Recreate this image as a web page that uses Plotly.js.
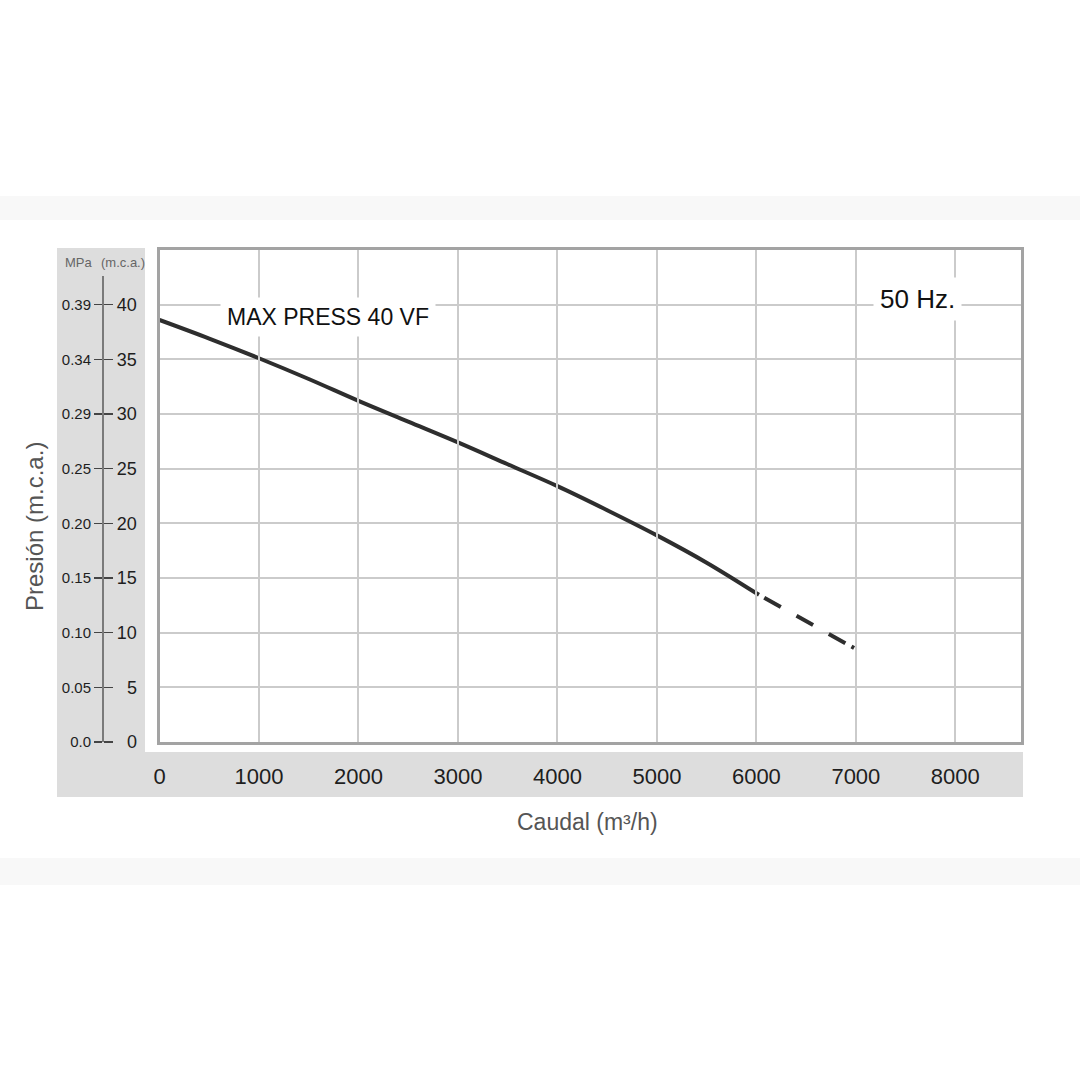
<!DOCTYPE html>
<html>
<head>
<meta charset="utf-8">
<script src="https://cdn.plot.ly/plotly-3.0.1.min.js"></script>
<style>html,body{margin:0;padding:0;background:#fff;}#chart{width:1080px;height:1080px;}</style>
</head>
<body>
<div id="chart"></div>
<script>
// ---- data ----
const flow = [0, 500, 1000, 1500, 2000, 2500, 3000, 3500, 4000, 4500, 5000, 5500, 6000];
const head = [38.6, 36.9, 35.1, 33.2, 31.2, 29.3, 27.4, 25.4, 23.4, 21.2, 18.9, 16.4, 13.6];
const flowExt = [6000, 7000];
const headExt = [13.6, 8.5];
const mcaTicks = [0, 5, 10, 15, 20, 25, 30, 35, 40];
const mpaLabels = ['0.0', '0.05', '0.10', '0.15', '0.20', '0.25', '0.29', '0.34', '0.39'];
const xTicks = [0, 1000, 2000, 3000, 4000, 5000, 6000, 7000, 8000];

const W = 1080, H = 1080;
const px = v => v / W;
const py = v => (H - v) / H;
const FONT = 'Liberation Sans, Arial, Helvetica, sans-serif';

const yMax = 45.0;
const y2Top = 276;
const y2Max = yMax * (742 - y2Top) / (742 - 250);

const traces = [
  {x: flow, y: head, type: 'scatter', mode: 'lines', line: {color: '#2e2e2e', width: 4, shape: 'spline'}, hoverinfo: 'skip', showlegend: false},
  {x: flowExt, y: headExt, type: 'scatter', mode: 'lines', line: {color: '#2e2e2e', width: 4, dash: '3px,6px,19px,18px,19px,18px,19px,7px,3px,60px'}, hoverinfo: 'skip', showlegend: false},
  {x: [null], y: [null], yaxis: 'y2', type: 'scatter', mode: 'lines', hoverinfo: 'skip', showlegend: false},
  {x: [null], y: [null], yaxis: 'y3', type: 'scatter', mode: 'lines', hoverinfo: 'skip', showlegend: false}
];

const layout = {
  width: W, height: H,
  margin: {l: 0, r: 0, t: 0, b: 0, autoexpand: false},
  paper_bgcolor: '#ffffff',
  plot_bgcolor: 'rgba(0,0,0,0)',
  showlegend: false,
  font: {family: FONT, color: '#222'},
  xaxis: {
    domain: [px(159.5), px(1021)], range: [0, 8660], anchor: 'y',
    tickvals: xTicks, ticktext: xTicks.map(String),
    showgrid: true, gridcolor: '#cbcbcb', gridwidth: 2,
    showline: true, mirror: true, linecolor: '#a3a3a3', linewidth: 3,
    zeroline: false, ticks: '', ticklabelstandoff: 13,
    tickfont: {size: 22, color: '#1e1e1e', family: FONT}
  },
  yaxis: {
    domain: [py(742), py(250)], range: [0, yMax], anchor: 'x',
    tickvals: mcaTicks, ticktext: mcaTicks.map(String),
    showgrid: true, gridcolor: '#cbcbcb', gridwidth: 2,
    showline: true, mirror: true, linecolor: '#a3a3a3', linewidth: 3,
    zeroline: false, ticks: '', ticklabelstandoff: 16,
    tickfont: {size: 18, color: '#1e1e1e', family: FONT}
  },
  yaxis2: {
    domain: [py(742), py(y2Top)], range: [0, y2Max], anchor: 'free', position: px(103), side: 'left',
    tickvals: mcaTicks, ticktext: mpaLabels,
    showgrid: false, zeroline: false,
    showline: true, linecolor: '#7a7a7a', linewidth: 2,
    ticks: 'outside', ticklen: 8, tickwidth: 1.5, tickcolor: '#444',
    tickfont: {size: 15, color: '#1e1e1e', family: FONT}
  },
  yaxis3: {
    domain: [py(742), py(y2Top)], range: [0, y2Max], anchor: 'free', position: px(103), side: 'right',
    tickvals: mcaTicks, showticklabels: false,
    showgrid: false, zeroline: false, showline: false,
    ticks: 'outside', ticklen: 9, tickwidth: 1.5, tickcolor: '#444'
  },
  shapes: [
    {type: 'rect', xref: 'paper', yref: 'paper', x0: 0, x1: 1, y0: py(220), y1: py(196), fillcolor: '#f8f8f8', line: {width: 0}, layer: 'below'},
    {type: 'rect', xref: 'paper', yref: 'paper', x0: 0, x1: 1, y0: py(885), y1: py(858), fillcolor: '#f8f8f8', line: {width: 0}, layer: 'below'},
    {type: 'rect', xref: 'paper', yref: 'paper', x0: px(57), x1: px(1023), y0: py(797), y1: py(248), fillcolor: '#dddddd', line: {width: 0}, layer: 'below'},
    {type: 'rect', xref: 'paper', yref: 'paper', x0: px(145), x1: px(1023), y0: py(752), y1: py(248), fillcolor: '#ffffff', line: {width: 0}, layer: 'below'}
  ],
  annotations: [
    {text: 'MAX PRESS 40 VF', xref: 'paper', yref: 'paper', x: px(328), y: py(317), showarrow: false,
     font: {size: 23, color: '#111', family: FONT}, bgcolor: '#ffffff', borderpad: 6, xanchor: 'center', yanchor: 'middle'},
    {text: '50 Hz.', xref: 'paper', yref: 'paper', x: px(917), y: py(299), showarrow: false,
     font: {size: 26, color: '#111', family: FONT}, bgcolor: '#ffffff', borderpad: 6, xanchor: 'center', yanchor: 'middle'},
    {text: 'Presión (m.c.a.)', xref: 'paper', yref: 'paper', x: px(34), y: py(527), showarrow: false, textangle: -90,
     font: {size: 24, color: '#555', family: FONT}, xanchor: 'center', yanchor: 'middle'},
    {text: 'Caudal (m³/h)', xref: 'paper', yref: 'paper', x: px(587), y: py(822), showarrow: false,
     font: {size: 23, color: '#555', family: FONT}, xanchor: 'center', yanchor: 'middle'},
    {text: 'MPa', xref: 'paper', yref: 'paper', x: px(79), y: py(263), showarrow: false,
     font: {size: 13, color: '#666', family: FONT}, xanchor: 'center', yanchor: 'middle'},
    {text: '(m.c.a.)', xref: 'paper', yref: 'paper', x: px(122.5), y: py(263), showarrow: false,
     font: {size: 13, color: '#666', family: FONT}, xanchor: 'center', yanchor: 'middle'}
  ]
};

Plotly.newPlot('chart', traces, layout, {staticPlot: true, displayModeBar: false});
</script>
</body>
</html>
